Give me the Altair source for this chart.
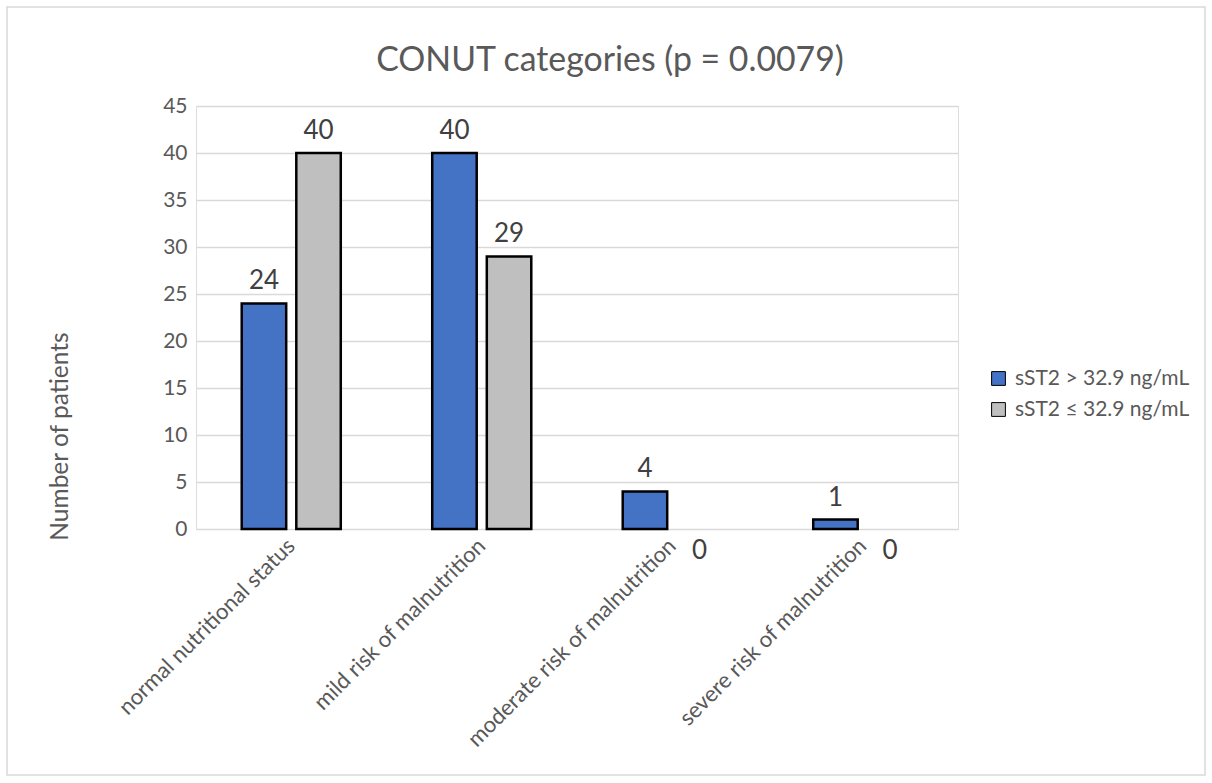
import altair as alt
import pandas as pd

categories = ["normal nutritional status", "mild risk of malnutrition",
              "moderate risk of malnutrition", "severe risk of malnutrition"]
series = ["sST2 > 32.9 ng/mL", "sST2 ≤ 32.9 ng/mL"]
high_values = [24, 40, 4, 1]
low_values = [40, 29, 0, 0]
title_text = "CONUT categories (p = 0.0079)"

rows = []
for c, h, l in zip(categories, high_values, low_values):
    rows.append({"category": c, "group": series[0], "value": h})
    rows.append({"category": c, "group": series[1], "value": l})
df = pd.DataFrame(rows)

FONT = "Lato"
GREY = "#595959"

x_enc = alt.X("category:N", sort=categories, title=None,
              scale=alt.Scale(domain=categories, paddingInner=0.48, paddingOuter=0.24),
              axis=alt.Axis(labelAngle=-45, labelFontSize=22.2, labelColor=GREY,
                            labelFont=FONT, domain=False, ticks=False,
                            labelAlign="right", labelBaseline="middle",
                            labelPadding=13, labelLimit=400))
xo_enc = alt.XOffset("group:N", sort=series,
                     scale=alt.Scale(domain=series, paddingInner=0.185, paddingOuter=0))
y_enc = alt.Y("value:Q", title="Number of patients",
              scale=alt.Scale(domain=[0, 45], nice=False),
              axis=alt.Axis(values=list(range(0, 50, 5)), labelFontSize=21,
                            labelColor=GREY, labelFont=FONT, domain=False,
                            ticks=False, labelPadding=9, gridColor="#d9d9d9",
                            gridWidth=1.3, titleFontSize=24.5, titleColor=GREY,
                            titleFont=FONT, titleFontWeight="normal",
                            titleAngle=-90, titleAlign="center",
                            titleBaseline="middle", titleX=-136, titleY=330))

color_enc = alt.Color("group:N", sort=series,
                      scale=alt.Scale(domain=series, range=["#4472c4", "#bfbfbf"]),
                      legend=alt.Legend(title=None, orient="none", legendX=792,
                                        legendY=262, symbolType="square",
                                        symbolSize=190, symbolStrokeColor="black",
                                        symbolStrokeWidth=1, labelFontSize=21,
                                        labelColor=GREY, labelFont=FONT,
                                        labelLimit=300,
                                        rowPadding=9, labelOffset=6))

base = alt.Chart(df)

bars = base.transform_filter("datum.value > 0").mark_bar(
    stroke="black", strokeWidth=2.5).encode(
    x=x_enc, xOffset=xo_enc, y=y_enc, color=color_enc)

labels_pos = base.transform_filter("datum.value > 0").mark_text(
    dy=-22, fontSize=26, font=FONT, color="#404040", baseline="middle").encode(
    x=alt.X("category:N", sort=categories), xOffset=xo_enc, y="value:Q",
    text="value:Q")

labels_zero = base.transform_filter("datum.value == 0").mark_text(
    dy=22, fontSize=26, font=FONT, color="#404040", baseline="middle").encode(
    x=alt.X("category:N", sort=categories), xOffset=xo_enc, y="value:Q",
    text="value:Q")

deco = pd.DataFrame({"t": [title_text]})
border = alt.Chart(deco).mark_rect(
    fill=None, stroke="#d9d9d9", strokeWidth=1.5).encode(
    x=alt.value(-189), x2=alt.value(1009), y=alt.value(-99), y2=alt.value(669))

title = alt.Chart(deco).mark_text(
    fontSize=33.8, font=FONT, color=GREY, align="center", baseline="middle").encode(
    x=alt.value(414), y=alt.value(-45), text="t:N")

chart = alt.layer(border, title, bars, labels_pos, labels_zero).properties(
    width=762, height=423,
    autosize=alt.AutoSizeParams(type="none"),
    padding={"left": 196, "top": 106, "right": 254, "bottom": 254},
).configure_view(stroke=None).configure(background="white")

chart.save("out.html", embed_options={"renderer": "svg", "actions": False})
